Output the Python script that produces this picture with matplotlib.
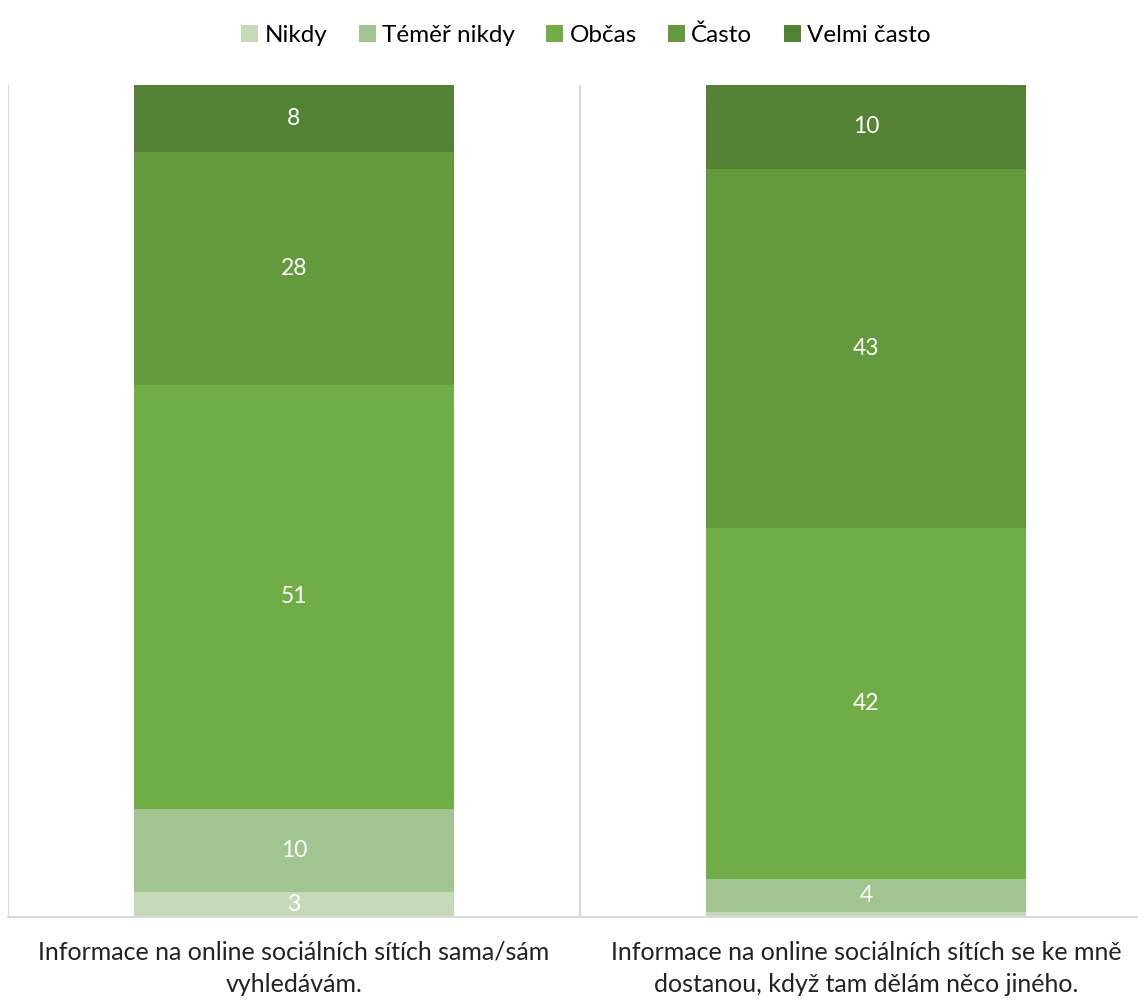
import numpy as np
import matplotlib
matplotlib.use("Agg")
from matplotlib import pyplot as plt

plt.rcParams['font.family'] = ['Lato', 'DejaVu Sans']

categories = ["Informace na online sociálních sítích sama/sám\nvyhledávám.",
              "Informace na online sociálních sítích se ke mně\ndostanou, když tam dělám něco jiného."]
series = ["Nikdy", "Téměř nikdy", "Občas", "Často", "Velmi často"]
nikdy = [3, 0.6]
temer_nikdy = [10, 4]
obcas = [51, 42]
casto = [28, 43]
velmi_casto = [8, 10]
colors = ["#C5D9B8", "#A2C490", "#70AD47", "#639A3E", "#548235"]

values = np.array([nikdy, temer_nikdy, obcas, casto, velmi_casto], dtype=float)
# 100% stacked
shares = values / values.sum(axis=0) * 100

fig = plt.figure(figsize=(11.38, 10.01), dpi=100)
ax = fig.add_axes([8 / 1138, 1 - 917 / 1001, 1144 / 1138, (917 - 85) / 1001])

x = np.arange(len(categories))
bottom = np.zeros(len(categories))
for name, raw, vals, col in zip(series, values, shares, colors):
    ax.bar(x, vals, 0.56, bottom=bottom, color=col, label=name)
    for xi, r, v, b in zip(x, raw, vals, bottom):
        if r >= 2:
            ax.text(xi, b + v / 2, f"{r:g}", ha="center", va="center",
                    color="white", fontsize=16.5)
    bottom += vals

ax.set_xlim(-0.5, 1.5)
ax.set_ylim(0, 100)
for xv in [-0.5, 0.5, 1.5]:
    ax.axvline(xv, color="#D9D9D9", lw=1.5, zorder=0)

for s in ["top", "right", "left"]:
    ax.spines[s].set_visible(False)
ax.spines["bottom"].set_color("#D9D9D9")
ax.spines["bottom"].set_linewidth(1.5)
ax.set_yticks([])
ax.set_xticks(x)
ax.set_xticklabels(categories, fontsize=18, linespacing=1.5, color="#222222")
ax.tick_params(axis="x", length=0, pad=17)

fig.legend(loc="upper center", bbox_to_anchor=(0.515, 0.997), ncol=5, frameon=False,
           fontsize=17.5, handlelength=0.7, handleheight=0.7, handletextpad=0.25,
           columnspacing=1.3)

fig.savefig("out.png", dpi=100)
